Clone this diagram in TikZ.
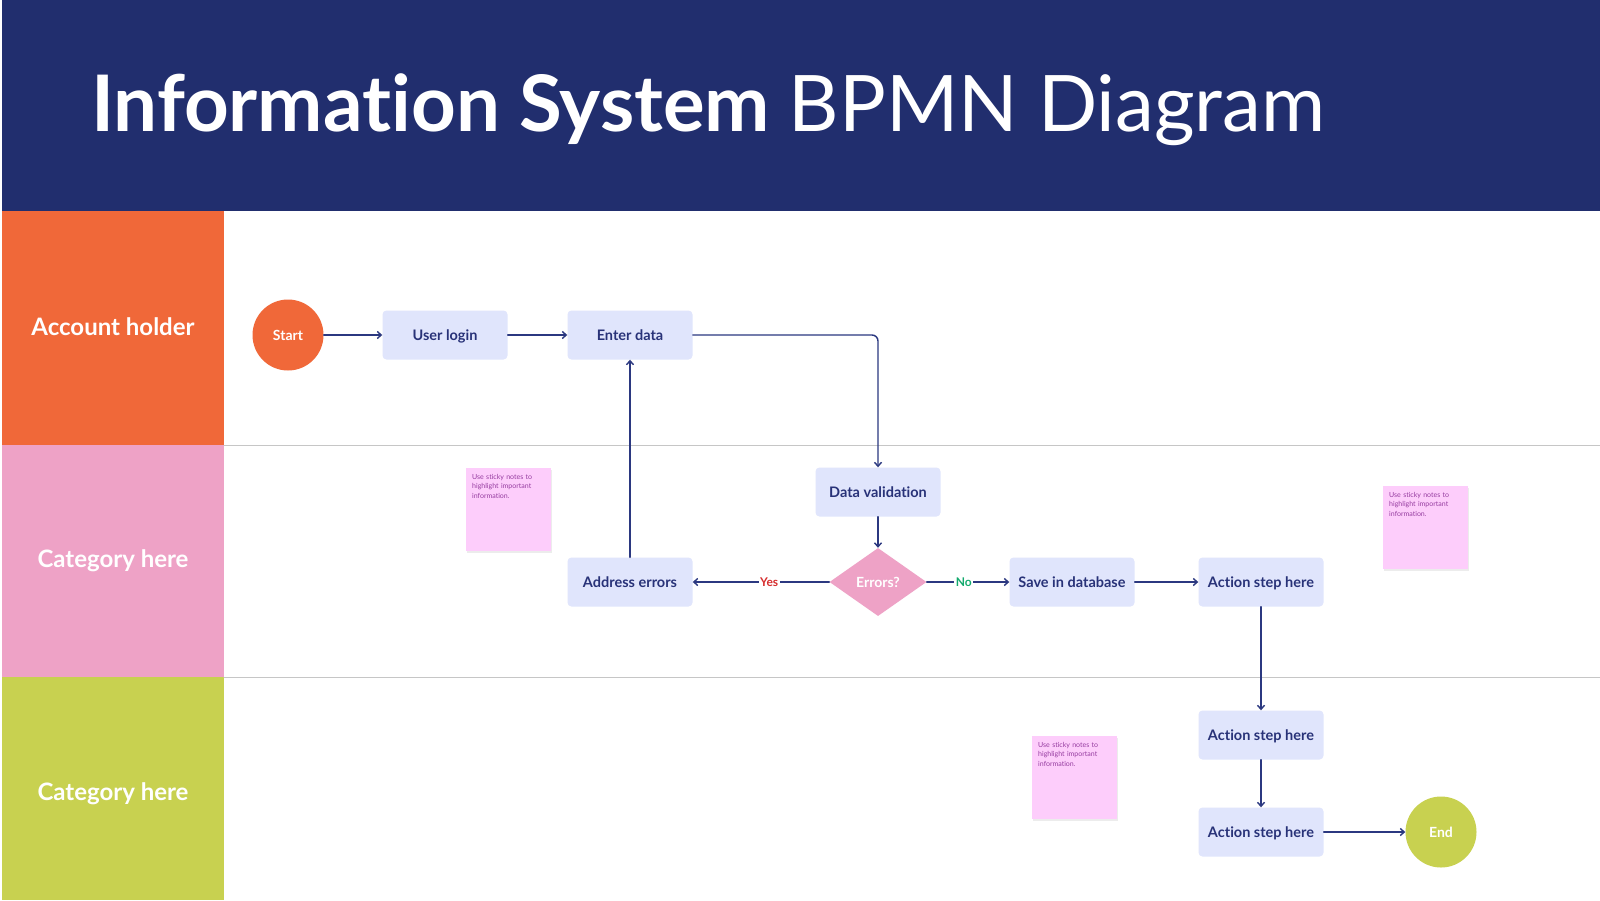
\documentclass[tikz,border=0pt]{standalone}
\usepackage{fontspec}
\setmainfont{Lato}[Ligatures=NoCommon]
\usepackage{tikz}
\usetikzlibrary{arrows.meta,shapes.geometric}
\usepackage{xcolor}
\definecolor{titlenavy}{RGB}{33,46,110}
\definecolor{flowline}{RGB}{43,56,128}
\definecolor{laneorange}{RGB}{240,104,57}
\definecolor{lanepink}{RGB}{238,162,198}
\definecolor{lanegreen}{RGB}{200,209,80}
\definecolor{boxfill}{RGB}{224,229,252}
\definecolor{boxtext}{RGB}{40,50,120}
\definecolor{stickyfill}{RGB}{253,205,251}
\definecolor{stickytext}{RGB}{150,60,160}
\definecolor{yesred}{RGB}{214,45,45}
\definecolor{nogreen}{RGB}{20,170,110}

\begin{document}
\begin{tikzpicture}[x=1pt,y=-1pt,>={Straight Barb[length=4pt,width=7pt]},line cap=round,
  task/.style={fill=boxfill,rounded corners=4pt,minimum width=125pt,minimum height=49pt,
    text height=10.5pt,text depth=0pt,text=boxtext,font=\fontsize{14.5}{16}\selectfont\bfseries},
  event/.style={circle,minimum size=71pt,inner sep=0pt,text=white,font=\fontsize{14}{16}\selectfont\bfseries},
  gateway/.style={diamond,fill=lanepink,minimum width=97pt,minimum height=68pt,inner sep=0pt,
    text=white,font=\fontsize{14}{16}\selectfont\bfseries},
  flow/.style={->,draw=flowline,line width=1.4pt},
  answer/.style={fill=white,inner sep=1.5pt,font=\fontsize{12}{14}\selectfont\bfseries},
  lanelabel/.style={text=white,font=\fontsize{24}{28}\selectfont\bfseries},
  sticky/.style={fill=stickyfill,minimum width=85pt,minimum height=83pt,inner sep=0pt},
  stickynote/.style={anchor=north west,text=stickytext,text width=68pt,align=left,inner sep=0pt,
    font=\fontsize{7}{9.5}\selectfont}]
\useasboundingbox (0,0) rectangle (1600,900);
\fill[white] (0,0) rectangle (1600,900);

% header
\fill[titlenavy] (2,0) rectangle (1600,211);
\node[anchor=base west,text=white,inner sep=0pt] (title) at (91,131)
  {\fontsize{78}{86}\selectfont\bfseries Information System \mdseries BPMN Diagram};

% lanes
\fill[laneorange] (2,211) rectangle (224,445);
\fill[lanepink] (2,445) rectangle (224,677);
\fill[lanegreen] (2,677) rectangle (224,900);
\draw[gray!45,line width=0.8pt] (224,445) -- (1600,445);
\draw[gray!45,line width=0.8pt] (224,677) -- (1600,677);
\node[lanelabel] (lane1) at (113,327) {Account holder};
\node[lanelabel] (lane2) at (113,561) {Category here};
\node[lanelabel] (lane3) at (113,794) {Category here};

% sticky notes
\foreach \sx/\sy [count=\i] in {466/468, 1383/486, 1032/736} {
  \fill[gray!15] (\sx+1,\sy+2) rectangle (\sx+86,\sy+85);
  \node[sticky,anchor=north west] (sticky\i) at (\sx,\sy) {};
  \node[stickynote] (stickytext\i) at ([xshift=6pt,yshift=-6pt]sticky\i.north west)
    {Use sticky notes to highlight important information.};
}

% flow objects
\node[event,fill=laneorange] (start) at (288,335) {Start};
\node[task] (login) at (445,335) {User login};
\node[task] (enter) at (630,335) {Enter data};
\node[task] (valid) at (878,492) {Data validation};
\node[gateway] (errors) at (878,582) {Errors?};
\node[task] (address) at (630,582) {Address errors};
\node[task] (save) at (1072,582) {Save in database};
\node[task] (act1) at (1261,582) {Action step here};
\node[task] (act2) at (1261,735) {Action step here};
\node[task] (act3) at (1261,832) {Action step here};
\node[event,fill=lanegreen] (end) at (1441,832) {End};

% connectors
\draw[flow] (start) -- (login);
\draw[flow] (login) -- (enter);
\draw[flow,rounded corners=6pt] (enter.east) -| (valid.north);
\draw[flow] (valid) -- (errors);
\draw[flow] (errors) -- node[answer,text=yesred,pos=0.44] {Yes} (address);
\draw[flow] (errors) -- node[answer,text=nogreen,pos=0.45] {No} (save);
\draw[flow] (address) -- (enter);
\draw[flow] (save) -- (act1);
\draw[flow] (act1) -- (act2);
\draw[flow] (act2) -- (act3);
\draw[flow] (act3) -- (end);
\end{tikzpicture}
\end{document}
